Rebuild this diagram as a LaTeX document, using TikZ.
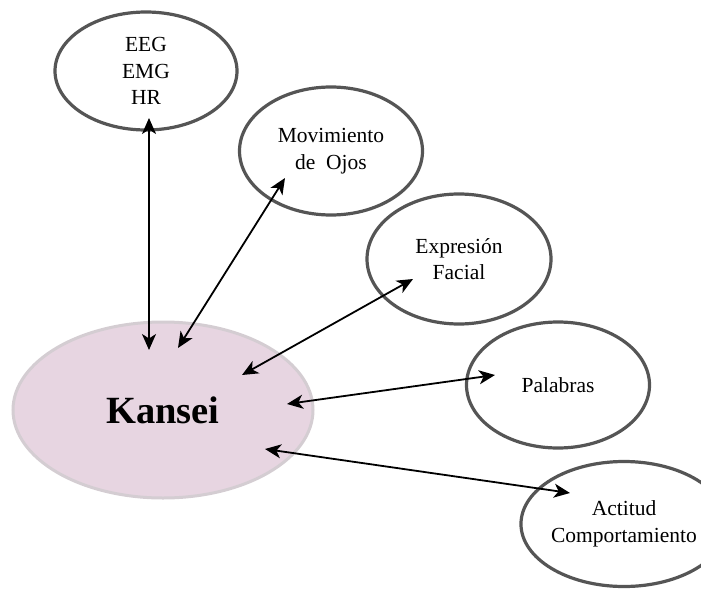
\documentclass[tikz,border=0pt]{standalone}
\usepackage{fontspec}
\setmainfont{Liberation Serif}
\usetikzlibrary{shapes.geometric,arrows.meta}

\definecolor{rimgray}{RGB}{85,85,85}
\definecolor{kanseifill}{RGB}{231,213,225}
\definecolor{kanseirim}{RGB}{212,205,210}

\tikzset{
  bubble/.style={ellipse, draw=rimgray, line width=3.2pt, fill=white,
    align=center, inner sep=0pt,
    font=\fontsize{21.5}{26.5}\selectfont},
  core/.style={ellipse, draw=kanseirim, line width=3pt, fill=kanseifill,
    inner sep=0pt, font=\fontsize{38.5}{42}\selectfont\bfseries},
  link/.style={line width=1.8pt, black,
    {Stealth[length=16pt,width=14pt,inset=4.5pt]}-{Stealth[length=16pt,width=14pt,inset=4.5pt]}}
}

\begin{document}
\begin{tikzpicture}[x=1pt,y=-1pt]
\useasboundingbox (0,0) rectangle (701,589);

% central concept
\node[core, minimum width=300pt, minimum height=176pt] (kansei) at (163,410) {Kansei};

% surrounding measures
\node[bubble, minimum width=182pt, minimum height=118pt] (eeg) at (146,71) {EEG\\EMG\\HR};
\node[bubble, minimum width=183pt, minimum height=128pt] (ojos) at (331,151) {Movimiento\\de\ \ Ojos};
\node[bubble, minimum width=184pt, minimum height=130pt] (facial) at (459,259) {Expresión\\Facial};
\node[bubble, minimum width=183pt, minimum height=126pt] (palabras) at (558,385) {Palabras};
\node[bubble, minimum width=182pt, minimum height=125pt] (actitud) at (624,524) {Actitud\\Comportamiento};

% two-way links between Kansei and each measure
\draw[link] ([shift={(3,47)}]eeg.center) -- ([shift={(-14,-60)}]kansei.center);
\draw[link] ([shift={(-46,27)}]ojos.center) -- ([shift={(15,-62)}]kansei.center);
\draw[link] ([shift={(-46,20)}]facial.center) -- ([shift={(79,-35)}]kansei.center);
\draw[link] ([shift={(-63,-10)}]palabras.center) -- ([shift={(124,-6)}]kansei.center);
\draw[link] ([shift={(-54,-31)}]actitud.center) -- ([shift={(102,39)}]kansei.center);
\end{tikzpicture}
\end{document}
